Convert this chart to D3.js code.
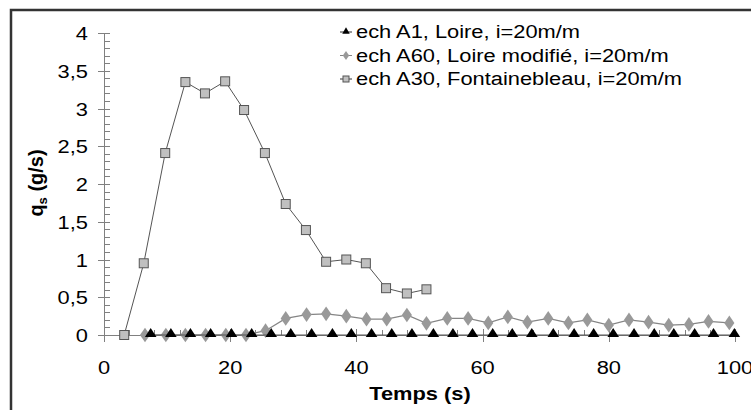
<!DOCTYPE html>
<html><head><meta charset="utf-8">
<script src="https://cdn.jsdelivr.net/npm/d3@7"></script>
<style>html,body{margin:0;padding:0;background:#fff;}svg{display:block;}</style>
</head><body>
<script>
// ---- data ----
const xTicks = [0, 20, 40, 60, 80, 100];
const yTicks = [0, 0.5, 1, 1.5, 2, 2.5, 3, 3.5, 4];
const yTickLabels = ["0", "0,5", "1", "1,5", "2", "2,5", "3", "3,5", "4"];
const seriesNames = ["ech A1, Loire, i=20m/m", "ech A60, Loire modifié, i=20m/m", "ech A30, Fontainebleau, i=20m/m"];
const tA1 = [7.4,10.6,13.7,16.9,20.2,23.4,26.5,29.6,32.9,36.2,39.2,42.4,45.6,48.8,52.2,55.3,58.4,61.6,64.7,67.8,71.2,74.5,77.6,80.7,84.0,87.2,90.3,93.6,96.6,99.9];
const qA1 = [0,0,0,0,0,0,0,0,0,0,0,0,0,0,0,0,0,0,0,0,0,0,0,0,0,0,0,0,0,0];
const tA60 = [6.5,9.8,12.9,16.1,19.3,22.5,25.6,28.8,32.1,35.2,38.4,41.6,44.8,48.0,51.1,54.4,57.7,60.9,64.0,67.1,70.4,73.6,76.6,80.0,83.2,86.3,89.5,92.7,95.8,99.1];
const qA60 = [0,0,0,0,0,0,0.057,0.22,0.27,0.28,0.25,0.21,0.21,0.265,0.155,0.22,0.22,0.16,0.24,0.17,0.22,0.16,0.20,0.13,0.20,0.17,0.13,0.14,0.18,0.16];
const tA30 = [3.2,6.3,9.7,12.9,16.0,19.2,22.2,25.5,28.8,32.0,35.2,38.4,41.5,44.7,48.0,51.1];
const qA30 = [0,0.95,2.41,3.35,3.2,3.36,2.98,2.41,1.735,1.39,0.97,1.0,0.95,0.62,0.55,0.605];

// ---- layout ----
const W = 751, H = 410;
const FONT = "Arial, 'Liberation Sans', sans-serif";
const SX = 1.15;
const svg = d3.select("body").append("svg").attr("width", W).attr("height", H);

const x = d3.scaleLinear().domain([0, 100]).range([104, 735]);
const y = d3.scaleLinear().domain([0, 4]).range([335, 33]);

// frame
svg.append("path").attr("d", `M11,${H+5} L11,10 L${W+5},10`)
  .attr("fill", "none").attr("stroke", "#333").attr("stroke-width", 2.5);

function stext(g, tx, ty, str, anchor, size, weight) {
  return g.append("text")
    .attr("transform", `translate(${tx},${ty}) scale(${SX},1)`)
    .attr("text-anchor", anchor).attr("font-family", FONT)
    .attr("font-size", size).attr("font-weight", weight || "normal")
    .attr("fill", "#000").text(str);
}

const axisColor = "#808080";
const ga = svg.append("g");
// y minor ticks
const yMinor = d3.range(0, 4.0001, 0.1);
ga.selectAll(".ymin").data(yMinor).join("line")
  .attr("x1", x(0)).attr("x2", x(0) + 6)
  .attr("y1", d => Math.round(y(d)) + 0.5).attr("y2", d => Math.round(y(d)) + 0.5)
  .attr("stroke", axisColor).attr("stroke-width", 1);
// y major ticks
ga.selectAll(".ymaj").data(yTicks).join("line")
  .attr("x1", x(0) - 6).attr("x2", x(0) + 6)
  .attr("y1", d => Math.round(y(d)) + 0.5).attr("y2", d => Math.round(y(d)) + 0.5)
  .attr("stroke", axisColor).attr("stroke-width", 1);
// x minor ticks
const xMinor = d3.range(0, 100.001, 4);
ga.selectAll(".xmin").data(xMinor).join("line")
  .attr("x1", d => Math.round(x(d)) + 0.5).attr("x2", d => Math.round(x(d)) + 0.5)
  .attr("y1", y(0)).attr("y2", y(0) - 5)
  .attr("stroke", axisColor).attr("stroke-width", 1);
// x major ticks
ga.selectAll(".xmaj").data(xTicks).join("line")
  .attr("x1", d => Math.round(x(d)) + 0.5).attr("x2", d => Math.round(x(d)) + 0.5)
  .attr("y1", y(0) - 6).attr("y2", y(0) + 7)
  .attr("stroke", axisColor).attr("stroke-width", 1);
// axis lines
ga.append("line").attr("x1", x(0) + 0.5).attr("x2", x(0) + 0.5).attr("y1", y(4)).attr("y2", y(0) + 7)
  .attr("stroke", axisColor).attr("stroke-width", 1);
ga.append("line").attr("x1", x(0) - 6).attr("x2", x(100)).attr("y1", y(0) + 0.5).attr("y2", y(0) + 0.5)
  .attr("stroke", axisColor).attr("stroke-width", 1);

// tick labels
yTicks.forEach((v, i) => stext(svg, 88, y(v) + 7, yTickLabels[i], "end", 19));
xTicks.forEach(v => stext(svg, x(v), 374, String(v), "middle", 19));

// axis titles
stext(svg, 420, 400, "Temps (s)", "middle", 19, "bold");
const yt = svg.append("text")
  .attr("transform", `translate(43,183) rotate(-90)`)
  .attr("text-anchor", "middle").attr("font-family", FONT)
  .attr("font-size", 20).attr("font-weight", "bold");
yt.append("tspan").text("q");
yt.append("tspan").attr("font-size", 13).attr("dy", 4).text("s");
yt.append("tspan").attr("dy", -4).text(" (g/s)");

// series
const line = d3.line().x(d => x(d[0])).y(d => y(d[1]));
const dA1 = tA1.map((t, i) => [t, qA1[i]]);
const dA60 = tA60.map((t, i) => [t, qA60[i]]);
const dA30 = tA30.map((t, i) => [t, qA30[i]]);

const sym = {
  tri: d3.symbol().type(d3.symbolTriangle).size(48),
  dia: d3.symbol().type(d3.symbolDiamond).size(62),
  triS: d3.symbol().type(d3.symbolTriangle).size(24),
  diaS: d3.symbol().type(d3.symbolDiamond).size(24)
};

// A60 diamonds
svg.append("path").datum(dA60).attr("d", line).attr("fill", "none").attr("stroke", "#858585").attr("stroke-width", 1.2);
svg.selectAll(".dia").data(dA60).join("path")
  .attr("transform", d => `translate(${x(d[0])},${y(d[1])}) scale(1.2,1)`)
  .attr("d", sym.dia()).attr("fill", "#999");
// A1 triangles
svg.append("path").datum(dA1).attr("d", line).attr("fill", "none").attr("stroke", "#555").attr("stroke-width", 1);
svg.selectAll(".tri").data(dA1).join("path")
  .attr("transform", d => `translate(${x(d[0])},${y(d[1]) - 1}) scale(1.1,1)`)
  .attr("d", sym.tri()).attr("fill", "#000");
// A30 squares
svg.append("path").datum(dA30).attr("d", line).attr("fill", "none").attr("stroke", "#555").attr("stroke-width", 1);
svg.selectAll(".sq").data(dA30).join("rect")
  .attr("x", d => x(d[0]) - 4.5).attr("y", d => y(d[1]) - 4.5)
  .attr("width", 9).attr("height", 9)
  .attr("fill", "#c0c0c0").attr("stroke", "#555").attr("stroke-width", 1);

// legend
const lg = svg.append("g");
const rows = [38, 61.5, 85];
rows.forEach((ry, i) => {
  const cy = ry - 6;
  lg.append("line").attr("x1", 340).attr("x2", 352).attr("y1", cy).attr("y2", cy)
    .attr("stroke", i === 1 ? "#858585" : "#333").attr("stroke-width", 1);
  if (i === 0) lg.append("path").attr("transform", `translate(346,${cy - 0.5})`).attr("d", sym.triS()).attr("fill", "#000");
  if (i === 1) lg.append("path").attr("transform", `translate(346,${cy}) scale(1.2,1)`).attr("d", sym.diaS()).attr("fill", "#999");
  if (i === 2) lg.append("rect").attr("x", 343).attr("y", cy - 3).attr("width", 6).attr("height", 6)
    .attr("fill", "#c0c0c0").attr("stroke", "#555");
  stext(lg, 356, ry, seriesNames[i], "start", 19);
});
</script>
</body></html>
